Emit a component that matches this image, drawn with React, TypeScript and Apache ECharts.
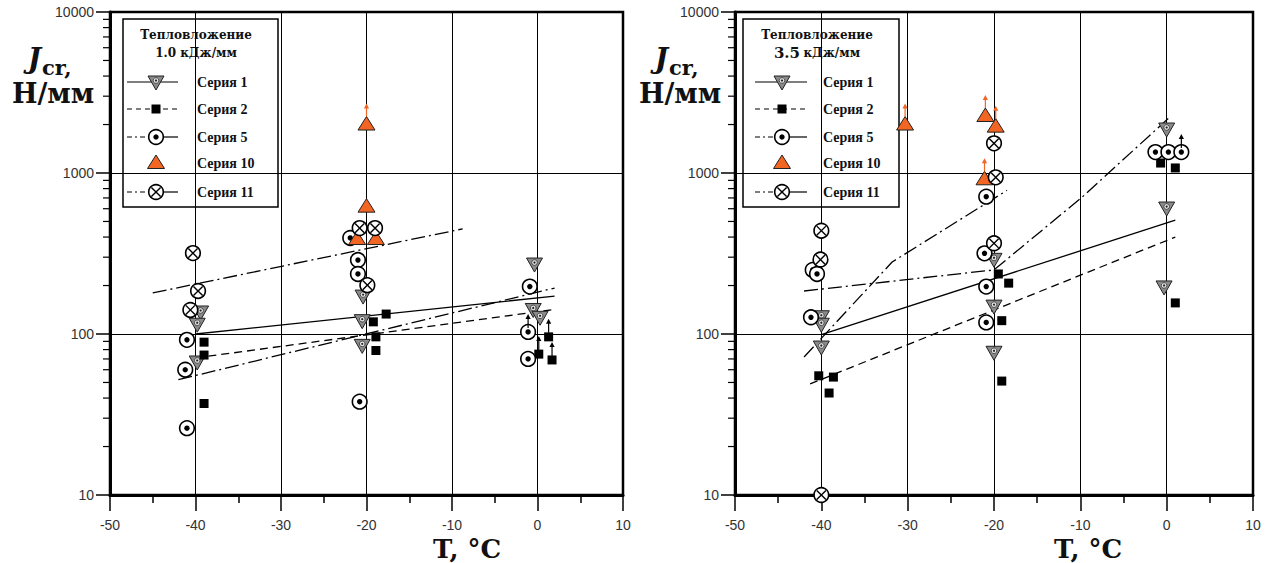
import React, { useEffect, useRef } from "react";
import * as echarts from "echarts";

type Pt = [number, number];

// Axes
const T_MIN = -50;
const T_MAX = 10;
const T_STEP = 10;
const J_MIN = 10;
const J_MAX = 10000;
const J_MINOR_TICKS = [
  20, 30, 40, 50, 60, 70, 80, 90,
  200, 300, 400, 500, 600, 700, 800, 900,
  2000, 3000, 4000, 5000, 6000, 7000, 8000, 9000,
];

const SERIES_NAMES = ["Серия 1", "Серия 2", "Серия 5", "Серия 10", "Серия 11"];
const HEAT_TITLE = "Тепловложение";

// Heat input 1.0 kJ/mm
const A_S1: Pt[] = [[-39.4, 137], [-39.8, 115], [-39.8, 67], [-20.4, 172], [-20.5, 121], [-20.5, 85], [-0.35, 272], [-0.5, 142], [0.3, 127]];
const A_S2: Pt[] = [[-39, 89], [-39, 74], [-39, 37], [-17.7, 133], [-19.2, 119], [-18.9, 96], [-18.9, 79], [1.3, 96], [0.15, 75], [1.7, 69]];
const A_S5: Pt[] = [[-41, 92], [-41.2, 60], [-41, 26], [-21.9, 395], [-21, 288], [-21, 236], [-20.8, 38], [-0.9, 197], [-1.1, 103], [-1.1, 70]];
const A_S10: Pt[] = [[-20, 2000], [-20, 618], [-21.1, 389], [-18.9, 389]];
const A_S11: Pt[] = [[-40.3, 318], [-39.7, 185], [-40.6, 141], [-20.8, 455], [-19, 455], [-19.9, 201]];
const A_TREND_S1: Pt[] = [[-40, 100], [2, 172]];
const A_TREND_S2: Pt[] = [[-40, 71], [2, 142]];
const A_TREND_S5: Pt[] = [[-42, 52], [2, 193]];
const A_TREND_S11: Pt[] = [[-45, 180], [-8.75, 450]];
const A_ARROW_ORANGE: Pt[] = [[-20, 2000]];
const A_ARROW_BLACK: Pt[] = [[-1.1, 103], [1.3, 96], [0.15, 75], [1.7, 69]];

// Heat input 3.5 kJ/mm
const B_S1: Pt[] = [[-40, 128], [-40, 115], [-40, 83], [-20, 291], [-20, 149], [-20, 77], [0, 1876], [0, 606], [-0.3, 196]];
const B_S2: Pt[] = [[-40.3, 55], [-38.6, 54], [-39.1, 43], [-19.5, 236], [-18.3, 207], [-19.1, 121], [-19.1, 51], [-0.7, 1153], [1, 1075], [1, 156]];
const B_S5: Pt[] = [[-41, 250], [-40.5, 236], [-41.2, 127], [-20.9, 713], [-21.1, 317], [-20.9, 197], [-20.9, 118], [-1.3, 1349], [0.2, 1349], [1.7, 1349]];
const B_S10: Pt[] = [[-30.3, 2000], [-21, 2260], [-19.8, 1941], [-21.1, 914]];
const B_S11: Pt[] = [[-40, 438], [-40.1, 290], [-40, 10], [-20, 1528], [-19.8, 940], [-20, 366]];
const B_TREND_S1: Pt[] = [[-40, 99], [1, 510]];
const B_TREND_S2: Pt[] = [[-41.3, 49], [1, 400]];
const B_TREND_S5: Pt[] = [[-42, 72], [-31.8, 280], [-18.5, 780]];
const B_TREND_S11: Pt[] = [[-42, 185], [-20, 250], [-9.9, 700], [0.5, 2260]];
const B_ARROW_ORANGE: Pt[] = [[-30.3, 2000], [-21, 2260], [-19.8, 1941], [-21.1, 914]];
const B_ARROW_BLACK: Pt[] = [[1.7, 1349]];

const ORANGE = "#F26522";
const DASHED = [8, 5];
const DASH_DOT = [14, 4, 2, 4];

const SANS = '"Liberation Sans", Arial, sans-serif';
const SERIF = '"DejaVu Serif", serif';
const LEGEND_FONT = 'bold 14px "Liberation Serif", serif';

function markerShapes(kind: number, x: number, y: number): any[] {
  switch (kind) {
    case 0:
      return [
        { type: "polygon", shape: { points: [[x - 8, y - 6], [x + 8, y - 6], [x, y + 8]] }, style: { fill: "#8a8a8a", stroke: "#222", lineWidth: 1 } },
        { type: "circle", shape: { cx: x, cy: y - 1.5, r: 2.8 }, style: { fill: "#e2e2e2", stroke: "#333", lineWidth: 0.8 } },
        { type: "circle", shape: { cx: x, cy: y - 1.5, r: 1.1 }, style: { fill: "#222" } },
      ];
    case 1:
      return [{ type: "rect", shape: { x: x - 4.5, y: y - 4.5, width: 9, height: 9 }, style: { fill: "#000" } }];
    case 2:
      return [
        { type: "circle", shape: { cx: x, cy: y, r: 7.3 }, style: { fill: "#fff", stroke: "#000", lineWidth: 1.6 } },
        { type: "circle", shape: { cx: x, cy: y, r: 2.7 }, style: { fill: "#000" } },
      ];
    case 3:
      return [
        { type: "polygon", shape: { points: [[x, y - 8], [x - 8.5, y + 5.5], [x + 8.5, y + 5.5]] }, style: { fill: ORANGE, stroke: "#222", lineWidth: 1 } },
      ];
    default: {
      const d = 4.6;
      return [
        { type: "circle", shape: { cx: x, cy: y, r: 7.3 }, style: { fill: "#fff", stroke: "#000", lineWidth: 1.6 } },
        { type: "line", shape: { x1: x - d, y1: y - d, x2: x + d, y2: y + d }, style: { stroke: "#000", lineWidth: 1.4 } },
        { type: "line", shape: { x1: x - d, y1: y + d, x2: x + d, y2: y - d }, style: { stroke: "#000", lineWidth: 1.4 } },
      ];
    }
  }
}

const renderMarker = (kind: number) => (_p: any, api: any) => {
  const [x, y] = api.coord([api.value(0), api.value(1)]);
  return { type: "group", children: markerShapes(kind, x, y) };
};

const renderArrow = (color: string, start: number, len: number) => (_p: any, api: any) => {
  const [x, y] = api.coord([api.value(0), api.value(1)]);
  const top = y - start - len;
  return {
    type: "group",
    children: [
      { type: "line", shape: { x1: x, y1: y - start, x2: x, y2: top + 3 }, style: { stroke: color, lineWidth: 1.2 } },
      { type: "polygon", shape: { points: [[x - 2.6, top + 4], [x + 2.6, top + 4], [x, top - 1]] }, style: { fill: color } },
    ],
  };
};

const renderMinorTick = (_p: any, api: any) => {
  const [x, y] = api.coord([api.value(0), api.value(1)]);
  return { type: "line", shape: { x1: x - 7, y1: y, x2: x, y2: y }, style: { stroke: "#000", lineWidth: 1.2 } };
};

function panelSeries(idx: number, pts: Pt[][], trends: Pt[][], orangeArrows: Pt[], blackArrows: Pt[]): any[] {
  const axes = { xAxisIndex: idx, yAxisIndex: idx };
  const trendStyles: any[] = ["solid", DASHED, DASH_DOT, DASH_DOT];
  const out: any[] = [];
  trends.forEach((t, i) => {
    out.push({
      type: "line", ...axes, data: t, symbol: "none", silent: true, z: 2,
      lineStyle: { color: "#000", width: 1.3, type: trendStyles[i] },
    });
  });
  pts.forEach((p, kind) => {
    out.push({ type: "custom", ...axes, data: p, renderItem: renderMarker(kind), z: 3 + kind, clip: false, silent: true });
  });
  out.push({ type: "custom", ...axes, data: orangeArrows, renderItem: renderArrow(ORANGE, 8, 12), z: 10, clip: false, silent: true });
  out.push({ type: "custom", ...axes, data: blackArrows, renderItem: renderArrow("#000", 4, 13), z: 10, clip: false, silent: true });
  out.push({
    type: "custom", ...axes, data: J_MINOR_TICKS.map((v) => [T_MIN, v]),
    renderItem: renderMinorTick, z: 1, clip: false, silent: true,
  });
  return out;
}

function legendGraphic(box: { x: number; w: number }, lineX1: number, symX: number, lineX2: number, textX: number, titleX: number, subtitle: any): any {
  const rowsY = [82, 109, 137, 163, 192];
  const children: any[] = [
    { type: "rect", shape: { x: box.x, y: 19, width: box.w, height: 188 }, style: { fill: "#fff", stroke: "#000", lineWidth: 1.5 } },
    {
      type: "text", x: titleX, y: 35,
      style: { text: HEAT_TITLE, font: `bold 12px ${SERIF}`, fill: "#111", align: "center", textAlign: "center", verticalAlign: "middle", textVerticalAlign: "middle" },
    },
    {
      type: "text", x: titleX, y: 53,
      style: { ...subtitle, fill: "#111", align: "center", textAlign: "center", verticalAlign: "middle", textVerticalAlign: "middle" },
    },
  ];
  rowsY.forEach((y, kind) => {
    const lineStyle = { stroke: "#000", lineWidth: 1.2 };
    if (kind === 0) {
      children.push({ type: "line", shape: { x1: lineX1, y1: y, x2: lineX2, y2: y }, style: lineStyle });
    } else if (kind === 1) {
      children.push({ type: "line", shape: { x1: lineX1, y1: y, x2: lineX2, y2: y }, style: { ...lineStyle, lineDash: [5, 4] } });
    } else if (kind === 2 || kind === 4) {
      children.push({ type: "line", shape: { x1: lineX1, y1: y, x2: symX, y2: y }, style: { ...lineStyle, lineDash: [5, 3, 2, 3] } });
      children.push({ type: "line", shape: { x1: symX, y1: y, x2: lineX2, y2: y }, style: lineStyle });
    }
    children.push(...markerShapes(kind, symX, y));
    children.push({
      type: "text", x: textX, y,
      style: { text: SERIES_NAMES[kind], font: LEGEND_FONT, fill: "#111", verticalAlign: "middle", textVerticalAlign: "middle" },
    });
  });
  return { type: "group", z: 100, children };
}

function axisTitles(dx: number): any[] {
  const base = { fill: "#111", verticalAlign: "middle", textVerticalAlign: "middle" };
  return [
    { type: "text", x: 41 + dx, y: 58, z: 100, style: { ...base, text: "J", font: `italic bold 28px ${SERIF}`, align: "right", textAlign: "right" } },
    { type: "text", x: 42 + dx, y: 67, z: 100, style: { ...base, text: "cr,", font: `bold 21px ${SERIF}` } },
    { type: "text", x: 12 + dx, y: 93, z: 100, style: { ...base, text: "Н/мм", font: `bold 27px ${SERIF}` } },
  ];
}

function xTitle(x: number): any {
  return {
    type: "text", x, y: 549, z: 100,
    style: { text: "T, °C", font: `bold 26px ${SERIF}`, fill: "#111", verticalAlign: "middle", textVerticalAlign: "middle" },
  };
}

function buildOption(): any {
  const grids = [
    { left: 110, top: 12, width: 513, height: 483 },
    { left: 735, top: 12, width: 518, height: 483 },
  ];
  const xAxis = grids.map((_, i) => ({
    type: "value", gridIndex: i, min: T_MIN, max: T_MAX, interval: T_STEP,
    axisLine: { show: true, onZero: false, lineStyle: { color: "#000", width: 3 } },
    axisTick: { show: true, length: 16, lineStyle: { color: "#000", width: 1.5 } },
    minorTick: { show: true, splitNumber: 2, length: 8, lineStyle: { color: "#000", width: 1.5 } },
    axisLabel: { fontFamily: SANS, fontSize: 14, color: "#333", margin: 23 },
    splitLine: { show: true, lineStyle: { color: "#000", width: 1 } },
  }));
  const yAxis = grids.map((_, i) => ({
    type: "log", logBase: 10, gridIndex: i, min: J_MIN, max: J_MAX,
    axisLine: { show: true, onZero: false, lineStyle: { color: "#000", width: 3 } },
    axisTick: { show: true, length: 14, lineStyle: { color: "#000", width: 1.5 } },
    axisLabel: { fontFamily: SANS, fontSize: 14, color: "#333", margin: 16, formatter: (v: number) => String(Math.round(v)) },
    splitLine: { show: true, lineStyle: { color: "#000", width: 1 } },
  }));
  const series = [
    ...panelSeries(0, [A_S1, A_S2, A_S5, A_S10, A_S11], [A_TREND_S1, A_TREND_S2, A_TREND_S5, A_TREND_S11], A_ARROW_ORANGE, A_ARROW_BLACK),
    ...panelSeries(1, [B_S1, B_S2, B_S5, B_S10, B_S11], [B_TREND_S1, B_TREND_S2, B_TREND_S5, B_TREND_S11], B_ARROW_ORANGE, B_ARROW_BLACK),
  ];
  const graphic = [
    legendGraphic({ x: 123, w: 155 }, 127, 156, 178, 197, 196, { text: "1.0 кДж/мм", font: `bold 12px ${SERIF}` }),
    legendGraphic({ x: 743, w: 156 }, 755, 782, 807, 823, 817, {
      text: "{a|3.5} {b|кДж/мм}",
      rich: { a: { font: `bold 15px ${SERIF}`, fill: "#111" }, b: { font: `bold 12px ${SERIF}`, fill: "#111" } },
    }),
    ...axisTitles(0),
    ...axisTitles(627),
    xTitle(433),
    xTitle(1054),
  ];
  return {
    animation: false,
    backgroundColor: "#fff",
    grid: grids.map((g) => ({ ...g, show: true, borderColor: "#000", borderWidth: 2.5 })),
    xAxis,
    yAxis,
    series,
    graphic,
  };
}

export default function App() {
  const ref = useRef<HTMLDivElement>(null);
  useEffect(() => {
    if (!ref.current) return;
    const chart = echarts.init(ref.current, null, { renderer: "svg" });
    chart.setOption(buildOption());
    return () => chart.dispose();
  }, []);
  return (
    <div
      ref={ref}
      style={{ position: "fixed", left: 0, top: 0, width: 1269, height: 563, background: "#fff" }}
    />
  );
}
